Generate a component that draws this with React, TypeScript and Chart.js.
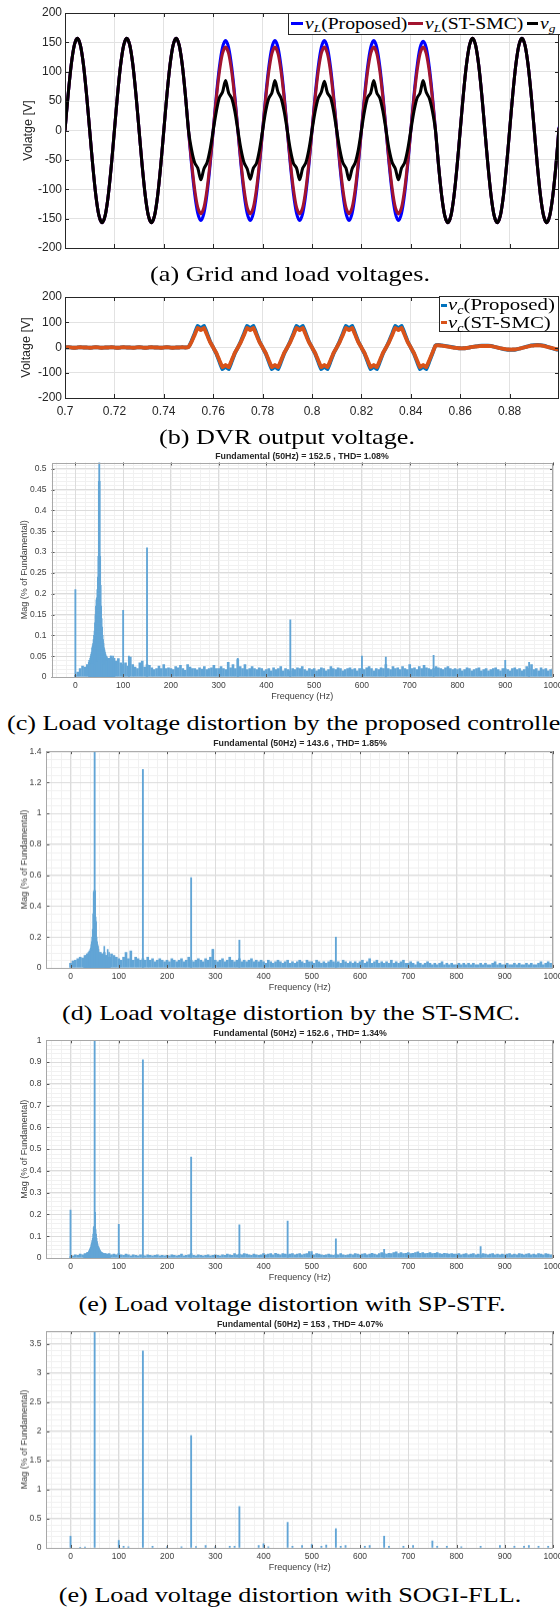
import React, { useEffect, useRef } from "react";
import { Chart, registerables } from "chart.js";

Chart.register(...registerables);

const SANS = "'Liberation Sans', Arial, Helvetica, sans-serif";
const SERIF = "'Liberation Serif', 'Times New Roman', serif";

// ================= DATA =================
// time axis of panels (a) and (b)
const timeStart = 0.7;
const timeStep = 0.00125;
const timeTicks = [0.7, 0.72, 0.74, 0.76, 0.78, 0.8, 0.82, 0.84, 0.86, 0.88];
const voltTicksA = [-200, -150, -100, -50, 0, 50, 100, 150, 200];
const voltTicksB = [-200, -100, 0, 100, 200];

// (a) grid voltage v_g
const vGrid = [
  0, 60, 111, 145, 157, 145, 111, 60, 0, -60, -111, -145, -157, -145, -111, -60,
  0, 60, 111, 145, 157, 145, 111, 60, 0, -60, -111, -145, -157, -145, -111, -60,
  0, 60, 111, 145, 157, 145, 111, 60,
  0, -33, -55, -64, -84, -65, -55, -32, 0, 32, 56, 65, 85, 64, 55, 33,
  0, -32, -55, -65, -83, -64, -56, -33, 0, 33, 55, 64, 85, 65, 55, 32,
  0, -33, -56, -64, -84, -64, -55, -32, 0, 32, 55, 65, 84, 64, 56, 33,
  0, -32, -55, -64, -84, -65, -55, -33, 0, 33, 56, 64, 85, 64, 55, 32,
  0, -33, -55, -65, -84, -64, -55, -32, 0, 32, 55, 64, 85, 65, 55, 33,
  0, -60, -111, -145, -157, -145, -111, -60, 0, 60, 111, 145, 157, 145, 111, 60,
  0, -60, -111, -145, -157, -145, -111, -60, 0, 60, 111, 145, 157, 145, 111, 60,
  0, -60, -111, -145, -157, -145, -111, -60,
  4,
];

// (a) load voltage, proposed controller
const vLoadProposed = [
  0, 60, 111, 145, 157, 145, 111, 60, 0, -60, -111, -145, -157, -145, -111, -60,
  0, 60, 111, 145, 157, 145, 111, 60, 0, -60, -111, -145, -157, -145, -111, -60,
  0, 60, 111, 145, 157, 145, 111, 60,
  0, -59, -108, -141, -153, -141, -108, -59, 0, 59, 108, 141, 153, 141, 108, 59,
  0, -59, -108, -141, -153, -141, -108, -59, 0, 59, 108, 141, 153, 141, 108, 59,
  0, -59, -108, -141, -153, -141, -108, -59, 0, 59, 108, 141, 153, 141, 108, 59,
  0, -59, -108, -141, -153, -141, -108, -59, 0, 59, 108, 141, 153, 141, 108, 59,
  0, -59, -108, -141, -153, -141, -108, -59, 0, 59, 108, 141, 152, 141, 108, 59,
  0, -60, -111, -145, -157, -145, -111, -60, 0, 60, 111, 145, 157, 145, 111, 60,
  0, -60, -111, -145, -157, -145, -111, -60, 0, 60, 111, 145, 157, 145, 111, 60,
  0, -60, -111, -145, -157, -145, -111, -60,
  6,
];

// (a) load voltage, ST-SMC
const vLoadSTSMC = [
  0, 60, 111, 145, 157, 145, 111, 60, 0, -60, -111, -145, -157, -145, -111, -60,
  0, 60, 111, 145, 157, 145, 111, 60, 0, -60, -111, -145, -157, -145, -111, -60,
  0, 60, 111, 145, 157, 145, 111, 60,
  0, -54, -100, -131, -142, -131, -100, -54, 0, 54, 100, 131, 142, 131, 100, 54,
  0, -54, -100, -131, -142, -131, -100, -54, 0, 54, 100, 131, 142, 131, 100, 54,
  0, -54, -100, -131, -142, -131, -100, -54, 0, 54, 100, 131, 142, 131, 100, 54,
  0, -54, -100, -131, -142, -131, -100, -54, 0, 54, 100, 131, 142, 131, 100, 54,
  0, -54, -100, -131, -142, -131, -100, -54, 0, 54, 100, 131, 142, 131, 100, 54,
  0, -60, -111, -145, -157, -145, -111, -60, 0, 60, 111, 145, 157, 145, 111, 60,
  0, -60, -111, -145, -157, -145, -111, -60, 0, 60, 111, 145, 157, 145, 111, 60,
  0, -60, -111, -145, -157, -145, -111, -60,
  5,
];

// (b) DVR output voltage, proposed
const vcProposed = [
  0, 1, 0, -1, 0, 1, 0, 0, -1, 0, 1, 0, -1, 0, 0, 1, 0, -1, 0, 1,
  0, 0, -1, 0, 1, 0, -1, 0, 1, 0, 0, -1, 0, 1, 0, -1, 0, 0, 1, 0,
  2, 26, 56, 86, 76, 86, 56, 24, 0, -24, -56, -86, -76, -86, -56, -24,
  0, 26, 56, 86, 76, 86, 56, 24, 0, -24, -56, -86, -76, -86, -56, -24,
  0, 26, 56, 86, 76, 86, 56, 24, 0, -24, -56, -86, -76, -86, -56, -24,
  0, 26, 56, 86, 76, 86, 56, 24, 0, -24, -56, -86, -76, -86, -56, -24,
  0, 26, 56, 86, 76, 86, 56, 24, 0, -24, -56, -86, -76, -86, -56, -24,
  8, 10, 8, 6, 4, 2, 0, -2, -3, -3, -2, 0, 2, 4, 6, 7, 7, 7, 6, 3,
  0, -3, -6, -8, -9, -9, -8, -5, -2, 2, 5, 8, 9, 10, 9, 7, 4, 0, -4, -7,
  -9,
];

// (b) DVR output voltage, ST-SMC
const vcSTSMC = [
  0, 1, 0, -1, 0, 1, 0, 0, -1, 0, 1, 0, -1, 0, 0, 1, 0, -1, 0, 1,
  0, 0, -1, 0, 1, 0, -1, 0, 1, 0, 0, -1, 0, 1, 0, -1, 0, 0, 1, 0,
  2, 22, 50, 78, 69, 78, 50, 21, 0, -21, -50, -78, -69, -78, -50, -21,
  0, 22, 50, 78, 69, 78, 50, 21, 0, -21, -50, -78, -69, -78, -50, -21,
  0, 22, 50, 78, 69, 78, 50, 21, 0, -21, -50, -78, -69, -78, -50, -21,
  0, 22, 50, 78, 69, 78, 50, 21, 0, -21, -50, -78, -69, -78, -50, -21,
  0, 22, 50, 78, 69, 78, 50, 21, 0, -21, -50, -78, -69, -78, -50, -21,
  7, 9, 7, 5, 3, 1, -1, -2, -3, -3, -2, 0, 2, 4, 5, 6, 6, 6, 5, 3,
  0, -3, -5, -7, -8, -8, -7, -5, -2, 1, 4, 7, 8, 9, 8, 6, 3, 0, -3, -6,
  -8,
];

// FFT panels
const fftFreqTicks = [0, 100, 200, 300, 400, 500, 600, 700, 800, 900, 1000];
const noiseBinHz = 5;
const clusterStartHz = 28;
const magTicksC = [0, 0.05, 0.1, 0.15, 0.2, 0.25, 0.3, 0.35, 0.4, 0.45, 0.5];
const magTicksD = [0, 0.2, 0.4, 0.6, 0.8, 1, 1.2, 1.4];
const magTicksE = [0, 0.1, 0.2, 0.3, 0.4, 0.5, 0.6, 0.7, 0.8, 0.9, 1];
const magTicksF = [0, 0.5, 1, 1.5, 2, 2.5, 3, 3.5];

// (c) proposed controller
const noiseC = [
  0.004, 0.012, 0.02, 0.026, 0.024, 0.03, 0.028, 0.032, 0.03, 0.036, 0.04, 0.034, 0.03, 0.038, 0.044, 0.05, 0.042, 0.038, 0.044, 0.034,
  0.03, 0.034, 0.026, 0.048, 0.03, 0.024, 0.02, 0.034, 0.038, 0.024, 0.03, 0.028, 0.022, 0.018, 0.02, 0.026, 0.02, 0.03, 0.02, 0.022,
  0.02, 0.018, 0.025, 0.022, 0.028, 0.02, 0.016, 0.03, 0.024, 0.02, 0.02, 0.017, 0.022, 0.019, 0.025, 0.018, 0.02, 0.022, 0.028, 0.02,
  0.02, 0.025, 0.02, 0.018, 0.035, 0.022, 0.03, 0.02, 0.042, 0.025, 0.02, 0.03, 0.018, 0.02, 0.025, 0.02, 0.018, 0.022, 0.02, 0.015,
  0.018, 0.02, 0.015, 0.022, 0.018, 0.02, 0.025, 0.015, 0.02, 0.018, 0.015, 0.02, 0.018, 0.022, 0.02, 0.025, 0.018, 0.015, 0.02, 0.018,
  0.02, 0.015, 0.018, 0.022, 0.02, 0.015, 0.018, 0.025, 0.02, 0.018, 0.022, 0.02, 0.015, 0.018, 0.02, 0.022, 0.018, 0.02, 0.015, 0.02,
  0.02, 0.018, 0.022, 0.025, 0.02, 0.015, 0.02, 0.018, 0.022, 0.02, 0.03, 0.02, 0.018, 0.025, 0.02, 0.022, 0.018, 0.025, 0.02, 0.018,
  0.03, 0.02, 0.022, 0.018, 0.025, 0.02, 0.028, 0.022, 0.02, 0.018, 0.02, 0.025, 0.022, 0.02, 0.018, 0.022, 0.025, 0.02, 0.018, 0.02,
  0.018, 0.02, 0.015, 0.018, 0.022, 0.02, 0.015, 0.018, 0.02, 0.022, 0.015, 0.018, 0.02, 0.015, 0.018, 0.02, 0.022, 0.018, 0.015, 0.02,
  0.02, 0.018, 0.015, 0.02, 0.022, 0.018, 0.02, 0.015, 0.018, 0.025, 0.02, 0.03, 0.018, 0.02, 0.015, 0.022, 0.018, 0.02, 0.015, 0.018,
  0.02,
];
const clusterC = [
  0.035, 0.04, 0.04, 0.045, 0.05, 0.055, 0.06, 0.07, 0.075, 0.08, 0.09, 0.1, 0.11, 0.13, 0.15, 0.17, 0.185, 0.19, 0.21, 0.24, 0.29, 0.47,
  null,
  0.47, 0.29, 0.22, 0.17, 0.14, 0.12, 0.1, 0.09, 0.08, 0.07, 0.065, 0.06, 0.055, 0.05, 0.05, 0.048, 0.045, 0.04, 0.045, 0.04, 0.035,
  0.045, 0.04, 0.05, 0.035, 0.04, 0.045, 0.035, 0.05, 0.04, 0.035, 0.045,
];
const harmHzC = [0, 50, 100, 112, 150, 340, 450, 600, 650, 750, 900, 950];
const harmMagC = [0.21, 100, 0.16, 0.05, 0.31, 0.045, 0.137, 0.05, 0.048, 0.052, 0.04, 0.035];

// (d) ST-SMC
const noiseD = [
  0.03, 0.045, 0.05, 0.06, 0.07, 0.065, 0.08, 0.09, 0.1, 0.11, 0.2, 0.12, 0.1, 0.09, 0.1, 0.08, 0.07, 0.09, 0.08, 0.07,
  0.06, 0.05, 0.07, 0.1, 0.06, 0.11, 0.05, 0.07, 0.06, 0.05, 0.06, 0.05, 0.07, 0.05, 0.06, 0.04, 0.05, 0.06, 0.05, 0.04,
  0.05, 0.04, 0.06, 0.05, 0.04, 0.05, 0.06, 0.04, 0.05, 0.07, 0.05, 0.04, 0.05, 0.06, 0.05, 0.04, 0.06, 0.05, 0.07, 0.12,
  0.05, 0.04, 0.05, 0.06, 0.04, 0.05, 0.07, 0.05, 0.04, 0.05, 0.06, 0.04, 0.05, 0.04, 0.05, 0.06, 0.04, 0.05, 0.04, 0.05,
  0.04, 0.03, 0.05, 0.04, 0.03, 0.04, 0.05, 0.04, 0.03, 0.04, 0.05, 0.03, 0.04, 0.03, 0.04, 0.05, 0.04, 0.03, 0.05, 0.04,
  0.04, 0.03, 0.05, 0.04, 0.03, 0.04, 0.03, 0.04, 0.05, 0.04, 0.03, 0.04, 0.03, 0.05, 0.04, 0.03, 0.04, 0.03, 0.04, 0.03,
  0.04, 0.05, 0.03, 0.04, 0.06, 0.03, 0.04, 0.05, 0.03, 0.04, 0.03, 0.04, 0.03, 0.05, 0.03, 0.04, 0.03, 0.04, 0.05, 0.03,
  0.03, 0.04, 0.03, 0.02, 0.04, 0.03, 0.02, 0.03, 0.04, 0.03, 0.02, 0.03, 0.02, 0.03, 0.04, 0.02, 0.03, 0.02, 0.03, 0.02,
  0.02, 0.03, 0.02, 0.03, 0.02, 0.03, 0.02, 0.03, 0.02, 0.02, 0.03, 0.02, 0.03, 0.02, 0.02, 0.03, 0.04, 0.02, 0.03, 0.02,
  0.02, 0.03, 0.02, 0.02, 0.03, 0.02, 0.03, 0.02, 0.02, 0.03, 0.02, 0.03, 0.02, 0.02, 0.03, 0.04, 0.02, 0.03, 0.04, 0.03,
  0.03,
];
const clusterD = [
  0.06, 0.05, 0.07, 0.06, 0.08, 0.06, 0.07, 0.09, 0.08, 0.1, 0.09, 0.11, 0.1, 0.12, 0.13, 0.15, 0.17, 0.2, 0.25, 0.35, 0.49, 0.5,
  null,
  0.5, 0.33, 0.3, 0.2, 0.17, 0.15, 0.14, 0.12, 0.1, 0.09, 0.08, 0.09, 0.1, 0.08, 0.07, 0.08, 0.09, 0.07, 0.08, 0.14, 0.07,
  0.06, 0.08, 0.07, 0.06, 0.08, 0.12, 0.06, 0.07, 0.1, 0.06, 0.07,
];
const harmHzD = [50, 150, 250, 295, 350, 550];
const harmMagD = [100, 1.285, 0.585, 0.12, 0.18, 0.2];

// (e) SP-STF
const noiseE = [
  0.005, 0.01, 0.015, 0.012, 0.018, 0.015, 0.02, 0.025, 0.03, 0.035, 0.05, 0.04, 0.03, 0.025, 0.02, 0.018, 0.02, 0.015, 0.018, 0.015,
  0.02, 0.015, 0.012, 0.018, 0.015, 0.01, 0.015, 0.012, 0.01, 0.015, 0.012, 0.01, 0.015, 0.012, 0.01, 0.012, 0.015, 0.01, 0.012, 0.01,
  0.012, 0.01, 0.015, 0.012, 0.01, 0.012, 0.018, 0.01, 0.012, 0.015, 0.02, 0.012, 0.01, 0.015, 0.012, 0.01, 0.012, 0.015, 0.01, 0.012,
  0.015, 0.012, 0.01, 0.015, 0.012, 0.018, 0.015, 0.012, 0.02, 0.015, 0.018, 0.015, 0.02, 0.018, 0.015, 0.012, 0.018, 0.015, 0.012, 0.015,
  0.02, 0.015, 0.018, 0.02, 0.015, 0.022, 0.018, 0.015, 0.02, 0.018, 0.015, 0.018, 0.02, 0.015, 0.018, 0.02, 0.015, 0.018, 0.02, 0.03,
  0.018, 0.015, 0.02, 0.018, 0.015, 0.012, 0.015, 0.018, 0.015, 0.012, 0.018, 0.015, 0.02, 0.015, 0.012, 0.015, 0.018, 0.015, 0.02, 0.018,
  0.015, 0.018, 0.02, 0.015, 0.018, 0.022, 0.018, 0.015, 0.02, 0.025, 0.02, 0.018, 0.022, 0.02, 0.025, 0.028, 0.02, 0.025, 0.02, 0.022,
  0.025, 0.02, 0.022, 0.025, 0.028, 0.022, 0.025, 0.02, 0.022, 0.025, 0.02, 0.022, 0.025, 0.02, 0.018, 0.022, 0.02, 0.018, 0.02, 0.018,
  0.018, 0.02, 0.015, 0.018, 0.02, 0.015, 0.018, 0.02, 0.015, 0.018, 0.015, 0.02, 0.018, 0.015, 0.018, 0.02, 0.015, 0.018, 0.015, 0.018,
  0.015, 0.018, 0.02, 0.015, 0.018, 0.015, 0.02, 0.018, 0.015, 0.018, 0.02, 0.015, 0.018, 0.015, 0.02, 0.018, 0.015, 0.02, 0.018, 0.015,
  0.015,
];
const clusterE = [
  0.01, 0.012, 0.015, 0.012, 0.018, 0.015, 0.02, 0.02, 0.025, 0.025, 0.03, 0.035, 0.04, 0.045, 0.05, 0.06, 0.07, 0.08, 0.09, 0.11, 0.14, 0.145,
  null,
  0.21, 0.13, 0.11, 0.09, 0.075, 0.065, 0.055, 0.05, 0.045, 0.04, 0.035, 0.03, 0.028, 0.025, 0.022, 0.02, 0.02, 0.018, 0.02, 0.015, 0.018,
  0.015, 0.02, 0.015, 0.012, 0.015, 0.012, 0.015, 0.01, 0.015, 0.012, 0.01,
];
const harmHzE = [0, 50, 100, 150, 250, 350, 450, 500, 550, 650, 850];
const harmMagE = [0.22, 100, 0.155, 0.91, 0.463, 0.152, 0.17, 0.03, 0.088, 0.04, 0.052];

// (f) SOGI-FLL
const harmHzF = [0, 50, 100, 150, 250, 350, 450, 550, 650, 750];
const harmMagF = [0.2, 100, 0.13, 3.38, 1.93, 0.71, 0.44, 0.33, 0.2, 0.12];
const minorHzF = [20, 30, 110, 120, 170, 200, 230, 260, 280, 300, 330, 340, 390, 400, 410, 460, 480, 500, 520, 530, 560, 570, 610, 620, 660, 690, 710, 760, 780, 810, 850, 890, 920, 940, 950, 970, 990];
const minorMagF = [0.01, 0.015, 0.03, 0.02, 0.03, 0.02, 0.02, 0.025, 0.04, 0.02, 0.03, 0.03, 0.04, 0.07, 0.02, 0.03, 0.04, 0.06, 0.03, 0.05, 0.03, 0.04, 0.03, 0.04, 0.03, 0.03, 0.04, 0.03, 0.03, 0.02, 0.03, 0.04, 0.03, 0.03, 0.04, 0.03, 0.03];

// ================= HELPERS =================
const toTimePoints = (vals: number[]) => vals.map((y, i) => ({ x: timeStart + i * timeStep, y }));
const toBins = (vals: (number | null)[], startHz: number, stepHz: number) =>
  vals.map((y, i) => ({ x: startHz + i * stepHz, y })).filter((p) => p.y !== null);
const zipPoints = (xs: number[], ys: number[]) => xs.map((x, i) => ({ x, y: ys[i] }));
const setTicks = (values: number[]) => (scale: any) => {
  scale.ticks = values.map((value) => ({ value }));
};
const fmt = (v: any) => String(Number(Number(v).toFixed(4)));

const framePlugin = {
  id: "frame",
  beforeDraw(chart: any, _a: any, o: any) {
    if (!o || !o.minorX) return;
    const { ctx, chartArea: a } = chart;
    const xs = chart.scales.x;
    const ys = chart.scales.y;
    ctx.save();
    ctx.strokeStyle = o.minorColor;
    ctx.lineWidth = 1;
    ctx.beginPath();
    const kx0 = Math.ceil(xs.min / o.minorX - 1e-9);
    const kx1 = Math.floor(xs.max / o.minorX + 1e-9);
    for (let k = kx0; k <= kx1; k++) {
      const p = Math.round(xs.getPixelForValue(k * o.minorX)) + 0.5;
      ctx.moveTo(p, a.top);
      ctx.lineTo(p, a.bottom);
    }
    const ky0 = Math.ceil(ys.min / o.minorY - 1e-9);
    const ky1 = Math.floor(ys.max / o.minorY + 1e-9);
    for (let k = ky0; k <= ky1; k++) {
      const p = Math.round(ys.getPixelForValue(k * o.minorY)) + 0.5;
      ctx.moveTo(a.left, p);
      ctx.lineTo(a.right, p);
    }
    ctx.stroke();
    ctx.restore();
  },
  afterDraw(chart: any, _a: any, o: any) {
    const { ctx, chartArea: a } = chart;
    const xs = chart.scales.x;
    const ys = chart.scales.y;
    ctx.save();
    ctx.lineWidth = 1;
    ctx.strokeStyle = o.tickColor;
    ctx.beginPath();
    xs.ticks.forEach((t: any) => {
      const p = Math.round(xs.getPixelForValue(t.value)) + 0.5;
      ctx.moveTo(p, a.bottom);
      ctx.lineTo(p, a.bottom - o.tick);
      ctx.moveTo(p, a.top);
      ctx.lineTo(p, a.top + o.tick);
    });
    ys.ticks.forEach((t: any) => {
      const p = Math.round(ys.getPixelForValue(t.value)) + 0.5;
      ctx.moveTo(a.left, p);
      ctx.lineTo(a.left + o.tick, p);
      ctx.moveTo(a.right, p);
      ctx.lineTo(a.right - o.tick, p);
    });
    ctx.stroke();
    ctx.strokeStyle = o.box;
    const l = Math.round(a.left);
    const t = Math.round(a.top);
    ctx.strokeRect(l + 0.5, t + 0.5, Math.round(a.right) - l - 1, Math.round(a.bottom) - t);
    ctx.restore();
  },
};

const GRID_A = "#e2e2e2";
const TXT_A = "#262626";

function timeConfig(opts: any): any {
  const common = { pointRadius: 0, borderWidth: opts.lw, tension: opts.tension, fill: false };
  return {
    type: "line",
    data: {
      datasets: opts.series.map((s: any) => ({
        label: s.label,
        data: toTimePoints(s.values),
        borderColor: s.color,
        order: s.order,
        ...common,
      })),
    },
    options: {
      animation: false,
      responsive: false,
      events: [],
      layout: { padding: { top: opts.padTop, right: opts.padRight, bottom: 0, left: 0 } },
      plugins: {
        legend: { display: false },
        tooltip: { enabled: false },
        frame: { box: TXT_A, tickColor: TXT_A, tick: 4 },
      },
      scales: {
        x: {
          type: "linear",
          min: 0.7,
          max: 0.9,
          afterBuildTicks: setTicks(timeTicks),
          afterFit: (s: any) => {
            s.height = opts.xHeight;
          },
          ticks: {
            display: opts.showX,
            font: { family: SANS, size: 12 },
            color: TXT_A,
            padding: 6,
            maxRotation: 0,
            autoSkip: false,
            callback: fmt,
          },
          grid: { color: GRID_A, drawTicks: false },
          border: { display: false },
        },
        y: {
          type: "linear",
          min: -200,
          max: 200,
          afterBuildTicks: setTicks(opts.yTicks),
          afterFit: (s: any) => {
            s.width = 65;
          },
          ticks: { font: { family: SANS, size: 12 }, color: TXT_A, padding: 3, callback: fmt },
          grid: { color: GRID_A, drawTicks: false },
          border: { display: false },
          title: {
            display: true,
            text: opts.yTitle,
            font: { family: SANS, size: 12.5 },
            color: TXT_A,
            padding: { top: opts.yTitlePad, bottom: 0 },
          },
        },
      },
    },
    plugins: [framePlugin],
  };
}

const BAR = "rgb(98,165,214)";
const FFT_TXT = "#404040";

function fftConfig(p: any): any {
  const ds: any[] = [];
  if (p.noise) ds.push({ data: toBins(p.noise, 0, noiseBinHz), barThickness: 2 });
  if (p.cluster) ds.push({ data: toBins(p.cluster, clusterStartHz, 1), barThickness: 1 });
  if (p.minorHz) ds.push({ data: zipPoints(p.minorHz, p.minorMag), barThickness: 1.2 });
  ds.push({ data: zipPoints(p.harmHz, p.harmMag), barThickness: 1.2 });
  return {
    type: "bar",
    data: {
      datasets: ds.map((d) => ({ ...d, backgroundColor: BAR, borderWidth: 0, grouped: false })),
    },
    options: {
      animation: false,
      responsive: false,
      events: [],
      layout: { padding: { top: p.padTop, right: p.padRight, bottom: 0, left: 0 } },
      plugins: {
        legend: { display: false },
        tooltip: { enabled: false },
        frame: {
          box: "#a8a8a8",
          tickColor: "#555555",
          tick: 3,
          minorX: 20,
          minorY: p.yMinor,
          minorColor: "#f1f1f1",
        },
      },
      scales: {
        x: {
          type: "linear",
          min: -50,
          max: 1000,
          offset: false,
          afterBuildTicks: setTicks(fftFreqTicks),
          afterFit: (s: any) => {
            s.height = p.xHeight;
          },
          ticks: {
            font: { family: SANS, size: 8.5 },
            color: FFT_TXT,
            padding: 3.5,
            maxRotation: 0,
            autoSkip: false,
            callback: fmt,
          },
          grid: { color: "#dcdcdc", drawTicks: false, offset: false },
          border: { display: false },
          title: {
            display: true,
            text: "Frequency (Hz)",
            font: { family: SANS, size: 9 },
            color: FFT_TXT,
            padding: { top: 0, bottom: 0.6 },
          },
        },
        y: {
          type: "linear",
          min: 0,
          max: p.yMax,
          afterBuildTicks: setTicks(p.yTicks),
          afterFit: (s: any) => {
            s.width = p.left;
          },
          ticks: { font: { family: SANS, size: 8.5 }, color: FFT_TXT, padding: 5, callback: fmt },
          grid: { color: "#dcdcdc", drawTicks: false },
          border: { display: false },
          title: {
            display: true,
            text: "Mag (% of Fundamental)",
            font: { family: SANS, size: 9 },
            color: FFT_TXT,
            padding: { top: 19.6, bottom: 0 },
          },
        },
      },
    },
    plugins: [framePlugin],
  };
}

function ChartCanvas(props: { left: number; top: number; width: number; height: number; make: () => any }) {
  const ref = useRef<HTMLCanvasElement | null>(null);
  useEffect(() => {
    const chart = new Chart(ref.current as HTMLCanvasElement, props.make());
    return () => chart.destroy();
  }, []);
  return (
    <canvas
      ref={ref}
      width={props.width}
      height={props.height}
      style={{ position: "absolute", left: props.left, top: props.top, width: props.width, height: props.height }}
    />
  );
}

function Txt(props: {
  x: number;
  y: number;
  size: number;
  family?: string;
  bold?: boolean;
  sx?: number;
  anchor?: "left" | "center";
  color?: string;
  children: any;
}) {
  const sx = props.sx ?? 1;
  const left = props.anchor === "left";
  return (
    <div
      style={{
        position: "absolute",
        left: props.x,
        top: props.y,
        fontFamily: props.family ?? SERIF,
        fontSize: props.size,
        fontWeight: props.bold ? "bold" : "normal",
        color: props.color ?? "#000",
        lineHeight: 1,
        whiteSpace: "nowrap",
        transformOrigin: left ? "left center" : "center center",
        transform: left ? `translate(0,-50%) scaleX(${sx})` : `translate(-50%,-50%) scaleX(${sx})`,
        zIndex: 2,
      }}
    >
      {props.children}
    </div>
  );
}

function LegLine(props: { x: number; y: number; w: number; color: string }) {
  return (
    <div
      style={{
        position: "absolute",
        left: props.x,
        top: props.y - 1.5,
        width: props.w,
        height: 3,
        background: props.color,
        zIndex: 2,
      }}
    />
  );
}

function MathLabel(props: { sub: string; text: string }) {
  return (
    <span>
      <i>v</i>
      <sub style={{ fontSize: "0.68em", verticalAlign: "-0.3em", lineHeight: 0, fontStyle: "italic" }}>{props.sub}</sub>
      {props.text}
    </span>
  );
}

const CAP = 22;
const CAPSX = 1.19;

export default function App() {
  return (
    <div
      style={{
        position: "absolute",
        left: 0,
        top: 0,
        width: 560,
        height: 1607,
        overflow: "hidden",
        background: "#ffffff",
      }}
    >
      {/* (a) */}
      <ChartCanvas
        left={0}
        top={0}
        width={600}
        height={260}
        make={() =>
          timeConfig({
            lw: 3,
            tension: 0.3,
            padTop: 13,
            padRight: 41,
            xHeight: 12,
            showX: false,
            yTicks: voltTicksA,
            yTitle: "Volatge [V]",
            yTitlePad: 21,
            series: [
              { label: "vL(Proposed)", values: vLoadProposed, color: "#0000ff", order: 2 },
              { label: "vL(ST-SMC)", values: vLoadSTSMC, color: "#a2142f", order: 1 },
              { label: "vg", values: vGrid, color: "#000000", order: 0 },
            ],
          })
        }
      />
      <div
        style={{
          position: "absolute",
          left: 288,
          top: 13,
          width: 300,
          height: 22,
          border: "1px solid #262626",
          background: "#fff",
          boxSizing: "border-box",
          zIndex: 1,
        }}
      />
      <LegLine x={290.7} y={23.5} w={12.6} color="#0000ff" />
      <Txt x={305} y={23.5} size={16.5} sx={CAPSX} anchor="left">
        <MathLabel sub="L" text="(Proposed)" />
      </Txt>
      <LegLine x={408} y={23.5} w={14.5} color="#a2142f" />
      <Txt x={424.5} y={23.5} size={16.5} sx={CAPSX} anchor="left">
        <MathLabel sub="L" text="(ST-SMC)" />
      </Txt>
      <LegLine x={526.7} y={23.5} w={11.5} color="#000000" />
      <Txt x={540} y={23.5} size={16.5} sx={CAPSX} anchor="left">
        <MathLabel sub="g" text="" />
      </Txt>
      <Txt x={290} y={274} size={CAP} sx={CAPSX}>
        (a) Grid and load voltages.
      </Txt>

      {/* (b) */}
      <ChartCanvas
        left={0}
        top={285}
        width={600}
        height={140}
        make={() =>
          timeConfig({
            lw: 3.8,
            tension: 0.12,
            padTop: 12,
            padRight: 41,
            xHeight: 27,
            showX: true,
            yTicks: voltTicksB,
            yTitle: "Voltage [V]",
            yTitlePad: 19.5,
            series: [
              { label: "vc(Proposed)", values: vcProposed, color: "#0072bd", order: 1 },
              { label: "vc(ST-SMC)", values: vcSTSMC, color: "#d95319", order: 0 },
            ],
          })
        }
      />
      <div
        style={{
          position: "absolute",
          left: 439,
          top: 296,
          width: 120,
          height: 36,
          border: "1px solid #262626",
          background: "#fff",
          boxSizing: "border-box",
          zIndex: 1,
        }}
      />
      <LegLine x={440.7} y={305} w={6.5} color="#0072bd" />
      <Txt x={447.5} y={305} size={17.5} sx={CAPSX} anchor="left">
        <MathLabel sub="c" text="(Proposed)" />
      </Txt>
      <LegLine x={440.7} y={322.7} w={6.5} color="#d95319" />
      <Txt x={447.5} y={322.7} size={17.5} sx={CAPSX} anchor="left">
        <MathLabel sub="c" text="(ST-SMC)" />
      </Txt>
      <Txt x={287} y={437} size={CAP} sx={CAPSX}>
        (b) DVR output voltage.
      </Txt>

      {/* (c) */}
      <Txt x={302} y={455.7} size={8.8} bold family={SANS} color="#262626">
        Fundamental (50Hz) = 152.5 , THD= 1.08%
      </Txt>
      <ChartCanvas
        left={0}
        top={452}
        width={600}
        height={251.3}
        make={() =>
          fftConfig({
            padTop: 10.5,
            padRight: 47,
            xHeight: 26,
            left: 51.5,
            yMax: 0.515,
            yTicks: magTicksC,
            yMinor: 0.01,
            noise: noiseC,
            cluster: clusterC,
            harmHz: harmHzC,
            harmMag: harmMagC,
          })
        }
      />
      <Txt x={7} y={723} size={CAP} sx={CAPSX} anchor="left">
        (c) Load voltage distortion by the proposed controller.
      </Txt>

      {/* (d) */}
      <Txt x={300} y={743} size={8.8} bold family={SANS} color="#262626">
        Fundamental (50Hz) = 143.6 , THD= 1.85%
      </Txt>
      <ChartCanvas
        left={0}
        top={741}
        width={600}
        height={252.5}
        make={() =>
          fftConfig({
            padTop: 10,
            padRight: 47,
            xHeight: 26,
            left: 46.4,
            yMax: 1.403,
            yTicks: magTicksD,
            yMinor: 0.05,
            noise: noiseD,
            cluster: clusterD,
            harmHz: harmHzD,
            harmMag: harmMagD,
          })
        }
      />
      <Txt x={291} y={1013} size={CAP} sx={CAPSX}>
        (d) Load voltage distortion by the ST-SMC.
      </Txt>

      {/* (e) SP-STF */}
      <Txt x={300} y={1033} size={8.8} bold family={SANS} color="#262626">
        Fundamental (50Hz) = 152.6 , THD= 1.34%
      </Txt>
      <ChartCanvas
        left={0}
        top={1030}
        width={600}
        height={254.3}
        make={() =>
          fftConfig({
            padTop: 10.3,
            padRight: 47,
            xHeight: 26,
            left: 46.4,
            yMax: 1,
            yTicks: magTicksE,
            yMinor: 0.02,
            noise: noiseE,
            cluster: clusterE,
            harmHz: harmHzE,
            harmMag: harmMagE,
          })
        }
      />
      <Txt x={292} y={1304} size={CAP} sx={CAPSX}>
        (e) Load voltage distortion with SP-STF.
      </Txt>

      {/* (e) SOGI-FLL */}
      <Txt x={300} y={1324} size={8.8} bold family={SANS} color="#262626">
        Fundamental (50Hz) = 153 , THD= 4.07%
      </Txt>
      <ChartCanvas
        left={0}
        top={1321}
        width={600}
        height={252.7}
        make={() =>
          fftConfig({
            padTop: 10,
            padRight: 47,
            xHeight: 26,
            left: 46.4,
            yMax: 3.72,
            yTicks: magTicksF,
            yMinor: 0.1,
            minorHz: minorHzF,
            minorMag: minorMagF,
            harmHz: harmHzF,
            harmMag: harmMagF,
          })
        }
      />
      <Txt x={290} y={1595} size={CAP} sx={CAPSX}>
        (e) Load voltage distortion with SOGI-FLL.
      </Txt>
    </div>
  );
}
